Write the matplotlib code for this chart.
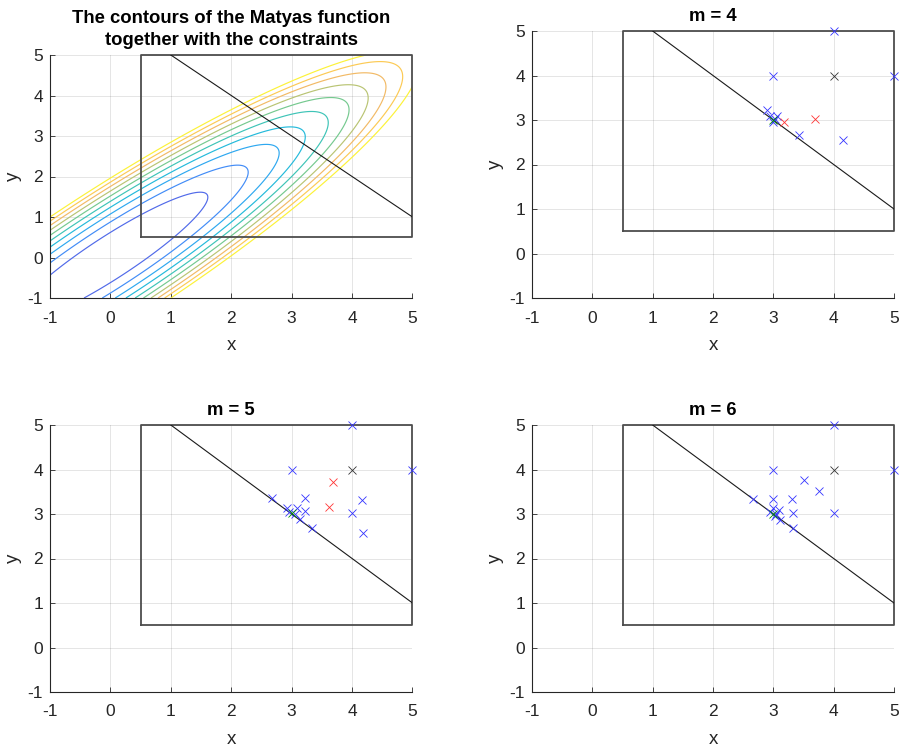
import numpy as np
import matplotlib
matplotlib.use("Agg")
import matplotlib.pyplot as plt
from matplotlib.colors import LinearSegmentedColormap

plt.rcParams['font.family'] = ['Liberation Sans', 'DejaVu Sans']
plt.rcParams['axes.unicode_minus'] = False

# contour levels of the Matyas function
levels = [0.1, 0.2, 0.3, 0.4, 0.5, 0.6, 0.7, 0.8, 0.9, 1.0]

# constraint box and the line x + y = 6
box_x = [0.5, 5, 5, 0.5, 0.5]
box_y = [0.5, 0.5, 5, 5, 0.5]
line_x = [1, 5]
line_y = [5, 1]

ticks = [-1, 0, 1, 2, 3, 4, 5]

# points
m_values = [4, 5, 6]
blue_x = {
    4: [4, 3, 5, 2.89, 2.94, 3.06, 3.0, 3.03, 3.43, 4.15],
    5: [4, 3, 5, 2.67, 3.22, 4.17, 4.0, 4.18, 2.92, 3.08, 3.22, 2.96, 3.13, 3.33, 3.05],
    6: [4, 3, 5, 3.5, 3.75, 2.66, 2.99, 3.31, 2.99, 3.1, 3.32, 4.0, 3.11, 3.33, 2.94, 3.05, 3.02],
}
blue_y = {
    4: [5, 4, 4, 3.22, 3.09, 3.09, 2.96, 3.03, 2.66, 2.54],
    5: [5, 4, 4, 3.37, 3.35, 3.31, 3.02, 2.58, 3.13, 3.13, 3.06, 3.04, 2.88, 2.69, 3.0],
    6: [5, 4, 4, 3.76, 3.52, 3.33, 3.34, 3.33, 3.13, 3.08, 3.02, 3.02, 2.86, 2.68, 3.04, 3.0, 2.95],
}
red_x = {4: [3.17, 3.69], 5: [3.69, 3.62], 6: []}
red_y = {4: [2.95, 3.02], 5: [3.72, 3.15], 6: []}
black_x = {4: [4], 5: [4], 6: [4]}
black_y = {4: [4], 5: [4], 6: [4]}
green_x = {4: [3.0], 5: [3.0], 6: [3.0]}
green_y = {4: [3.0], 5: [3.02], 6: [3.0]}

# parula-like colormap
parula = LinearSegmentedColormap.from_list("parula", [
    (0.0, (0.24, 0.15, 0.66)),
    (0.1, (0.32, 0.42, 0.92)),
    (0.2, (0.26, 0.55, 0.97)),
    (0.3, (0.18, 0.66, 0.94)),
    (0.4, (0.14, 0.73, 0.86)),
    (0.5, (0.24, 0.77, 0.72)),
    (0.6, (0.46, 0.79, 0.56)),
    (0.7, (0.72, 0.77, 0.45)),
    (0.8, (0.95, 0.73, 0.40)),
    (0.9, (0.99, 0.79, 0.33)),
    (1.0, (0.99, 0.95, 0.22)),
])

W, H = 902, 747
fig = plt.figure(figsize=(W / 100, H / 100), dpi=100)
dark = (0.15, 0.15, 0.15)

def px_axes(left, right, top, bottom):
    return fig.add_axes([left / W, 1 - bottom / H, (right - left) / W, (bottom - top) / H])

def style(ax):
    ax.set_xlim(-1, 5)
    ax.set_ylim(-1, 5)
    ax.set_xticks(ticks)
    ax.set_yticks(ticks)
    ax.grid(True, color=dark, alpha=0.12, linewidth=0.7)
    ax.set_axisbelow(True)
    for s in ['top', 'right']:
        ax.spines[s].set_visible(False)
    for s in ['left', 'bottom']:
        ax.spines[s].set_color(dark)
        ax.spines[s].set_linewidth(0.8)
        ax.spines[s].set_zorder(3)
    ax.tick_params(direction='in', length=3.5, width=0.6, color=dark,
                   labelsize=12.5, labelcolor=dark)
    ax.tick_params(axis='x', pad=9)
    ax.tick_params(axis='y', pad=5)
    ax.set_xlabel('x', fontsize=13.5, color=dark, labelpad=8)
    ax.set_ylabel('y', fontsize=13.5, color=dark, labelpad=4)

def constraints(ax):
    ax.plot(box_x, box_y, color=(0.3, 0.3, 0.3), linewidth=1.3, clip_on=False)
    ax.plot(line_x, line_y, color=(0.1, 0.1, 0.1), linewidth=0.8)

# top-left: contours
ax0 = px_axes(50, 412.5, 55, 298)
gx = np.linspace(-1, 5, 400)
X, Y = np.meshgrid(gx, gx)
Z = 0.26 * (X ** 2 + Y ** 2) - 0.48 * X * Y
ax0.contour(X, Y, Z, levels=levels, colors=[parula(v) for v in levels], linewidths=0.85)
constraints(ax0)
style(ax0)
ax0.set_title('The contours of the Matyas function\ntogether with the constraints',
              fontsize=13.3, fontweight='bold', pad=7, linespacing=1.4)

panels = {4: (532, 894, 31, 298), 5: (50, 412.5, 425, 692), 6: (532, 894, 425, 692)}
mk = dict(marker='x', linestyle='none', markersize=5.5, markeredgewidth=0.6, clip_on=False)
for m in m_values:
    ax = px_axes(*panels[m])
    constraints(ax)
    ax.plot(blue_x[m], blue_y[m], color=(0.2, 0.2, 1.0), **mk)
    ax.plot(red_x[m], red_y[m], color=(1.0, 0.2, 0.2), **mk)
    ax.plot(black_x[m], black_y[m], color=(0.2, 0.2, 0.2), **mk)
    ax.plot(green_x[m], green_y[m], color=(0.0, 0.55, 0.0), **mk)
    style(ax)
    ax.set_title('m = %d' % m, fontsize=13.3, fontweight='bold', pad=7)

fig.savefig('out.png', dpi=100)
